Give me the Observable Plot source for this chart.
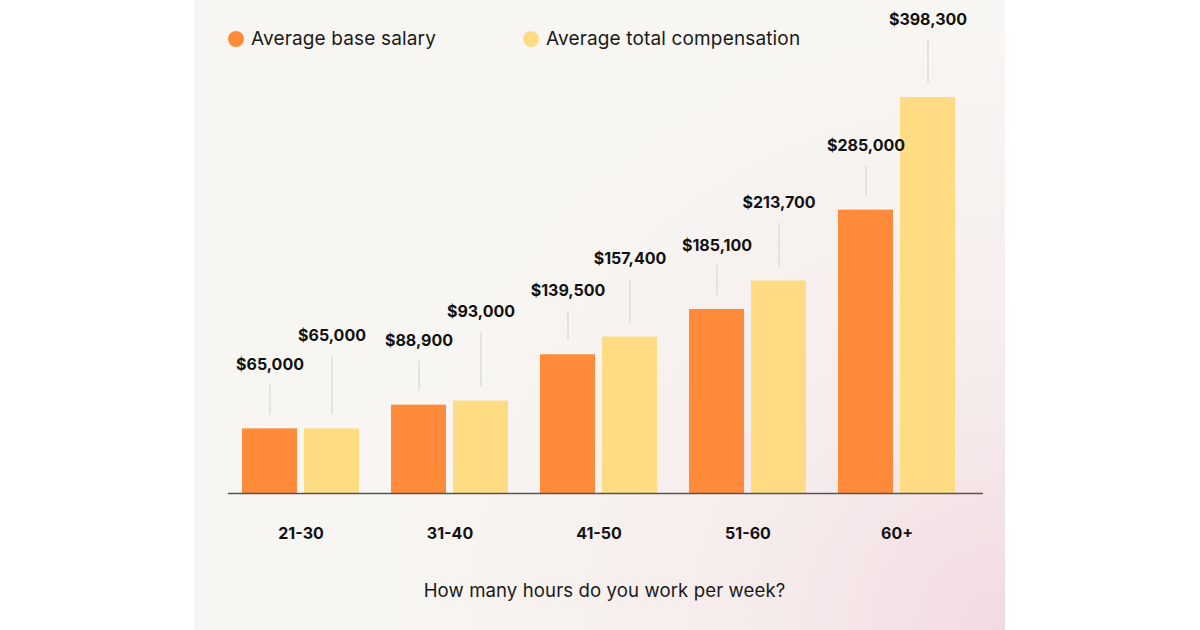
<!DOCTYPE html>
<html><head><meta charset="utf-8">
<script src="https://cdn.jsdelivr.net/npm/d3@7"></script>
<script src="https://cdn.jsdelivr.net/npm/@observablehq/plot@0.6"></script>
<style>
body{margin:0;background:#fff;width:1200px;height:630px;overflow:hidden;font-family:Inter,"Open Sans",sans-serif;}
#panel{position:absolute;left:194px;top:0;width:811px;height:630px;
  background:radial-gradient(ellipse 75% 95% at 100% 100%, rgba(242,218,224,1) 0%, rgba(244,228,230,0.6) 40%, rgba(248,246,242,0) 100%), #f8f6f2;}
#chart{position:absolute;left:0;top:0;}
#legend{position:absolute;top:27px;left:34px;display:flex;font-size:19px;letter-spacing:0.15px;color:#1a1a1a;line-height:24px;}
.item{display:flex;align-items:center;}
.sw{width:16px;height:16px;border-radius:50%;margin-right:7px;}
#xtitle{position:absolute;top:578px;left:0;width:821px;text-align:center;font-size:18.6px;letter-spacing:0.1px;color:#1a1a1a;line-height:24px;}
svg g[aria-label="x-axis tick label"] text{font-weight:700;}
</style></head>
<body><div id="panel"><div id="chart"></div><div id="legend"></div><div id="xtitle"></div></div>
<script>
const categories = ["21-30", "31-40", "41-50", "51-60", "60+"];
const baseSalary = [65000, 88900, 139500, 185100, 285000];
const totalComp = [65000, 93000, 157400, 213700, 398300];
const seriesNames = ["Average base salary", "Average total compensation"];
const seriesColors = ["#FF8A3A", "#FFDC84"];
const axisTitle = "How many hours do you work per week?";

const W = 811, H = 560, MT = 97, MB = 67, ML = 34, MR = 22;
const yMax = d3.max(baseSalary.concat(totalComp));
const py = d3.scaleLinear().domain([0, yMax]).range([H - MB, MT]);
const fmt = v => "$" + d3.format(",")(v);

const rows = [];
categories.forEach((c, i) => {
  const vb = baseSalary[i], vt = totalComp[i];
  const lb = py(vb) - 64;
  const lt = Math.min(py(vt) - 78, lb - 29);
  rows.push({cat: c, s: 0, value: vb, label: fmt(vb), ly: py.invert(lb), y1: py.invert(py(vb) - 14), y2: py.invert(lb + 20)});
  rows.push({cat: c, s: 1, value: vt, label: fmt(vt), ly: py.invert(lt), y1: py.invert(py(vt) - 14), y2: py.invert(lt + 21)});
});
const base = rows.filter(d => d.s === 0), tot = rows.filter(d => d.s === 1);

const plot = Plot.plot({
  width: W, height: H, marginTop: MT, marginBottom: MB, marginLeft: ML, marginRight: MR,
  style: {background: "transparent", fontFamily: "Inter, 'Open Sans', sans-serif", color: "#111"},
  x: {domain: categories, paddingInner: 0.215, paddingOuter: 0.139, align: 0.335, label: null},
  y: {domain: [0, yMax], axis: null},
  marks: [
    Plot.barY(base, {x: "cat", y: "value", fill: seriesColors[0], insetRight: 62}),
    Plot.barY(tot, {x: "cat", y: "value", fill: seriesColors[1], insetLeft: 62}),
    Plot.ruleY([0], {stroke: "#555", strokeWidth: 1.5}),
    Plot.ruleX(base, {x: "cat", y1: "y1", y2: "y2", dx: -31, stroke: "#dcdcdc", strokeWidth: 1.5}),
    Plot.ruleX(tot, {x: "cat", y1: "y1", y2: "y2", dx: 31, stroke: "#dcdcdc", strokeWidth: 1.5}),
    Plot.text(base, {x: "cat", y: "ly", text: "label", dx: -31, fontSize: 16, fontWeight: 700, fill: "#111"}),
    Plot.text(tot, {x: "cat", y: "ly", text: "label", dx: 31, fontSize: 16, fontWeight: 700, fill: "#111"}),
    Plot.axisX({tickSize: 0, tickPadding: 34, fontSize: 16, fontWeight: 700, fill: "#111", label: null})
  ]
});
document.getElementById("chart").appendChild(plot);

const legend = document.getElementById("legend");
seriesNames.forEach((n, i) => {
  const it = document.createElement("div");
  it.className = "item";
  it.style.marginRight = i === 0 ? "87px" : "0";
  it.innerHTML = `<span class="sw" style="background:${seriesColors[i]}"></span><span>${n}</span>`;
  legend.appendChild(it);
});
document.getElementById("xtitle").textContent = axisTitle;
</script>
</body></html>
